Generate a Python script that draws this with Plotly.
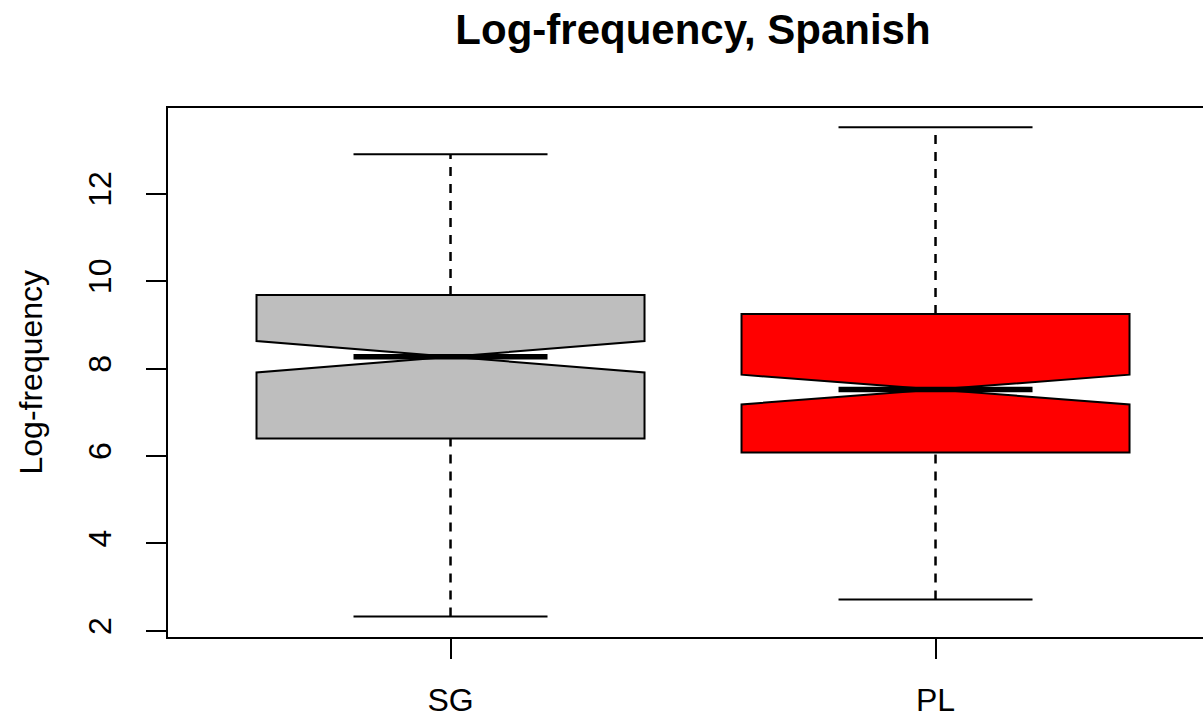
import plotly.graph_objects as go

categories = ["SG", "PL"]
positions = [1, 2]
lower_whisker = [2.33, 2.72]
q1 = [6.40, 6.08]
median = [8.27, 7.52]
q3 = [9.68, 9.25]
upper_whisker = [12.90, 13.52]
notch_span = [0.36, 0.34]
fill_colors = ["#BEBEBE", "#FF0000"]

y_ticks = [2, 4, 6, 8, 10, 12]
box_width = 0.8
cap_half = 0.2
median_half = 0.2

FONT = "Liberation Sans, Arial, sans-serif"

fig = go.Figure()

for i, cat in enumerate(categories):
    p = positions[i]
    # dashed whiskers
    fig.add_trace(go.Scatter(x=[p, p], y=[q3[i], upper_whisker[i]], mode="lines",
                             line=dict(color="black", width=2.5, dash="9px,8px"), hoverinfo="skip"))
    fig.add_trace(go.Scatter(x=[p, p], y=[lower_whisker[i], q1[i]], mode="lines",
                             line=dict(color="black", width=2.5, dash="9px,8px"), hoverinfo="skip"))
    # caps
    fig.add_trace(go.Scatter(x=[p - cap_half, p + cap_half], y=[upper_whisker[i]] * 2, mode="lines",
                             line=dict(color="black", width=2), hoverinfo="skip"))
    fig.add_trace(go.Scatter(x=[p - cap_half, p + cap_half], y=[lower_whisker[i]] * 2, mode="lines",
                             line=dict(color="black", width=2), hoverinfo="skip"))
    # notched box
    fig.add_trace(go.Box(
        x=[p], q1=[q1[i]], median=[median[i]], q3=[q3[i]],
        lowerfence=[q1[i]], upperfence=[q3[i]],
        notchspan=[notch_span[i]], notched=True, notchwidth=0.5,
        width=box_width, whiskerwidth=0,
        fillcolor=fill_colors[i], line=dict(color="black", width=2),
        boxpoints=False, name=cat, hoverinfo="skip",
    ))
    # thick median
    fig.add_trace(go.Scatter(x=[p - median_half, p + median_half], y=[median[i]] * 2, mode="lines",
                             line=dict(color="black", width=5.5), hoverinfo="skip"))

fig.update_layout(
    width=1203, height=718, autosize=False,
    margin=dict(l=168, r=0, t=108, b=81),
    paper_bgcolor="white", plot_bgcolor="white",
    showlegend=False,
    font=dict(family=FONT, size=32, color="black"),
    title=dict(text="Log-frequency, Spanish", x=693 / 1203, xanchor="center",
               xref="container", yref="container", y=1 - 29 / 718, yanchor="middle",
               font=dict(family=FONT, size=42, color="black", weight="bold")),
    xaxis=dict(range=[0.4175, 2.5515], tickvals=positions, ticktext=categories,
               showgrid=False, zeroline=False, showline=True, mirror=True,
               linecolor="black", linewidth=2, ticks="outside", ticklen=20,
               tickwidth=2, tickcolor="black", ticklabelstandoff=14,
               tickfont=dict(size=32)),
    yaxis=dict(range=[1.86, 13.96], tickvals=y_ticks,
               showgrid=False, zeroline=False, showline=True, mirror=False,
               linecolor="black", linewidth=2, ticks="outside", ticklen=20,
               tickwidth=2, tickcolor="black", tickangle=-90, ticklabelstandoff=22,
               tickfont=dict(size=32)),
    annotations=[dict(text="Log-frequency", textangle=-90, xref="paper", yref="paper",
                      x=(30 - 168) / 1035, y=0.5, xanchor="center", yanchor="middle",
                      showarrow=False, font=dict(family=FONT, size=32, color="black"))],
)

fig.write_html("out.html")
